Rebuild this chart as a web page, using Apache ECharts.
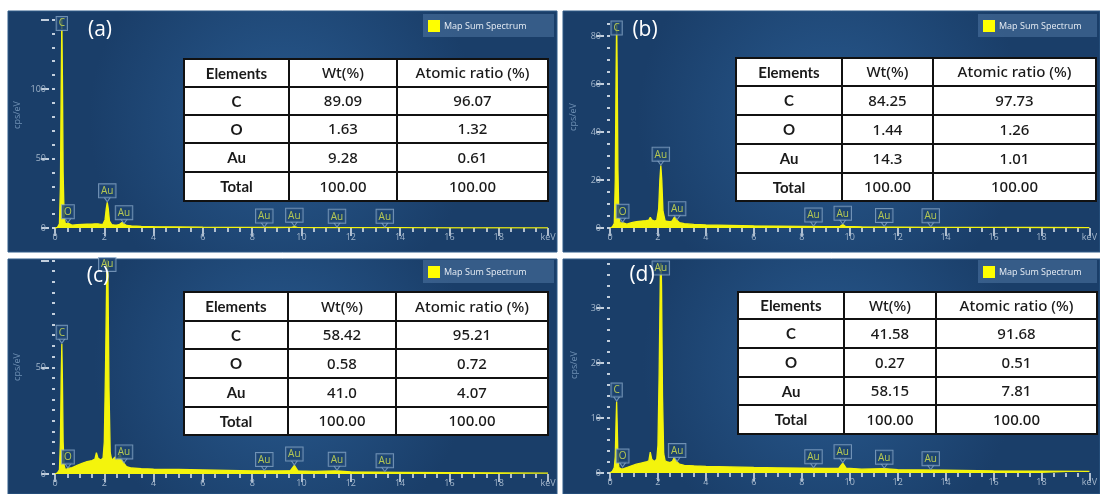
<!DOCTYPE html>
<html><head><meta charset="utf-8">
<script src="https://cdn.jsdelivr.net/npm/echarts@6/dist/echarts.min.js"></script>
<style>html,body{margin:0;padding:0;background:#fff}#c{width:1100px;height:494px}</style>
</head><body><div id="c"></div>
<script>
// ---------------- DATA ----------------
const panelLabels = ['(a)', '(b)', '(c)', '(d)'];
const legendText = 'Map Sum Spectrum';
const yAxisTitle = 'cps/eV';

// spectrum (a)
const keVA = [0,0.1,0.18,0.22,0.25,0.277,0.3,0.33,0.37,0.42,0.48,0.525,0.57,0.7,0.9,1.1,1.3,1.5,1.62,1.68,1.74,1.85,1.95,2.03,2.08,2.12,2.16,2.21,2.3,2.4,2.5,2.6,2.68,2.72,2.78,2.9,3.1,3.5,4,5,6,7,8,9,9.6,9.71,9.82,10.5,12,14,16,18,20];
const cpsA = [0,0.5,3,30,100,152,110,40,8,3,2.5,3.5,2.2,2,2.4,2.6,2.7,2.8,3,3.8,3,2.6,2.8,6,14,18.5,14,5,2.4,2.2,2.1,2.4,3.5,4,2.8,1.8,1.5,1.2,1,0.8,0.6,0.5,0.4,0.35,0.4,1,0.4,0.3,0.25,0.2,0.15,0.1,0.1];
// spectrum (b)
const keVB = [0,0.1,0.18,0.22,0.25,0.277,0.3,0.33,0.37,0.42,0.48,0.525,0.57,0.7,0.9,1.1,1.3,1.5,1.62,1.68,1.74,1.85,1.95,2.03,2.08,2.12,2.16,2.21,2.3,2.4,2.5,2.6,2.68,2.72,2.78,2.9,3.1,3.5,4,5,6,7,8,9,9.6,9.71,9.82,10.5,12,14,16,18,20];
const cpsB = [0,0.5,2,20,60,88,65,25,5,2,1.6,2.2,1.5,1.6,2.2,2.6,2.9,3.1,3.3,4.5,3.4,2.9,3.2,8,20,26,20,7,3,2.8,2.6,3,4.5,5,3.3,2.2,1.8,1.5,1.3,1.1,0.9,0.8,0.7,0.6,0.7,1.4,0.7,0.5,0.4,0.3,0.25,0.2,0.15];
// spectrum (c)
const keVC = [0,0.1,0.18,0.22,0.25,0.277,0.3,0.33,0.37,0.42,0.48,0.525,0.57,0.7,0.9,1.1,1.3,1.5,1.62,1.68,1.74,1.85,1.95,2.0,2.05,2.1,2.12,2.15,2.19,2.24,2.3,2.38,2.44,2.5,2.58,2.64,2.7,2.8,2.9,3.1,3.5,4,5,6,7,8,9,9.55,9.71,9.85,10.5,11.44,12,14,16,18,20];
const cpsC = [0,0.5,2,15,45,61,45,15,4,2,2,2.6,2.2,3,4,5,5.8,6.3,7,10,7.5,6.5,7.5,15,50,95,110,90,40,10,6.5,6,8,6,6.5,9.5,7,5,3.5,2.8,2.5,2.3,2.1,1.9,1.7,1.5,1.4,1.6,4,1.5,1.2,1.5,1,0.8,0.6,0.5,0.4];
// spectrum (d)
const keVD = [0,0.1,0.18,0.22,0.25,0.277,0.3,0.33,0.37,0.42,0.48,0.525,0.57,0.7,0.9,1.1,1.3,1.5,1.62,1.68,1.74,1.85,1.95,2.0,2.05,2.1,2.12,2.15,2.19,2.24,2.3,2.4,2.5,2.6,2.68,2.72,2.8,2.9,3.1,3.5,4,5,6,7,8,9,9.55,9.71,9.85,10.5,11.44,12,14,16,18,20];
const cpsD = [0,0.3,1,3,9,13,9,3,1,0.7,0.7,1,0.8,1,1.3,1.6,1.8,2,2.2,3.8,2.5,2.1,2.5,5,18,36,42,34,14,3.5,2.2,2,1.9,2.1,2.8,3,2,1.6,1.4,1.3,1.2,1.1,1,0.95,0.9,0.85,0.9,1.8,0.9,0.7,0.8,0.6,0.5,0.4,0.35,0.3];

// identified element lines
const lineNames = ['C','O','Au','Au','Au','Au','Au','Au'];
const lineKeV = [0.277,0.525,2.12,2.8,8.49,9.71,11.44,13.38];

// axis ticks
const xTicks = [0,2,4,6,8,10,12,14,16,18,20];
const yMaxes = [150, 85, 100, 38];
const yMinorSteps = [10, 5, 5, 2];
const yMajorTicks = [[0,50,100,150],[0,20,40,60,80],[0,50,100],[0,10,20,30]];
const yMajorLabels = [[0,50,100],[0,20,40,60,80],[0,50],[0,10,20,30]];

// tables
const tableHeader = ['Elements', 'Wt(%)', 'Atomic ratio (%)'];
const tableElements = ['C', 'O', 'Au', 'Total'];
const wtA = ['89.09', '1.63', '9.28', '100.00'];
const atA = ['96.07', '1.32', '0.61', '100.00'];
const wtB = ['84.25', '1.44', '14.3', '100.00'];
const atB = ['97.73', '1.26', '1.01', '100.00'];
const wtC = ['58.42', '0.58', '41.0', '100.00'];
const atC = ['95.21', '0.72', '4.07', '100.00'];
const wtD = ['41.58', '0.27', '58.15', '100.00'];
const atD = ['91.68', '0.51', '7.81', '100.00'];

// ---------------- LAYOUT ----------------
const spectra = [[keVA,cpsA],[keVB,cpsB],[keVC,cpsC],[keVD,cpsD]];
const tablesWt = [wtA, wtB, wtC, wtD];
const tablesAt = [atA, atB, atC, atD];
const panels = [
  {x:8, y:11, w:549, h:241, grid:{left:55, top:19.5, width:493, height:208.5},
   label:[100,30], legend:[423,14,131], table:{cols:[184,289,397,548],rows:[59,87,115,143,172,201]}, title:[17,115]},
  {x:563, y:11, w:537, h:241, grid:{left:610, top:24, width:490, height:204},
   label:[645,30], legend:[978,14,119], table:{cols:[736,842,933,1096],rows:[58,86,115,144,173,201]}, title:[573,117]},
  {x:8, y:259, w:549, h:235, grid:{left:55, top:260.5, width:493, height:213.5},
   label:[98,276], legend:[423,260,131], table:{cols:[184,288,396,548],rows:[292,321,349,378,407,435]}, title:[17,367]},
  {x:563, y:259, w:537, h:235, grid:{left:610, top:264, width:490, height:209},
   label:[642,275], legend:[978,260,119], table:{cols:[738,844,936,1097],rows:[292,319,348,377,405,434]}, title:[574,365]}
];

const tickColor = '#d7e0ea';
const labelColor = '#a3b6cb';
const specColor = '#f4f40c';
const boxFill = '#1d4470';
const boxBorder = '#86a5c6';
const boxText = '#dbe84c';

function valueNear(xs, ys, e) {
  let best = null;
  for (let i = 0; i < xs.length; i++) {
    if (Math.abs(xs[i] - e) <= 0.061) best = best === null ? ys[i] : Math.max(best, ys[i]);
  }
  if (best !== null) return best;
  for (let i = 0; i < xs.length - 1; i++) {
    if (xs[i] <= e && xs[i+1] >= e) {
      const t = (e - xs[i]) / (xs[i+1] - xs[i]);
      return ys[i] + t * (ys[i+1] - ys[i]);
    }
  }
  return 0;
}

const grids = [], xAxes = [], yAxes = [], series = [], graphics = [];
panels.forEach((p, i) => {
  grids.push(p.grid);
  xAxes.push({
    gridIndex: i, type: 'value', min: 0, max: 20, interval: 2, position: 'bottom',
    axisLine: {show: false},
    axisTick: {show: true, length: 8, lineStyle: {color: tickColor, width: 1.6}},
    minorTick: {show: true, splitNumber: 4, length: 4, lineStyle: {color: tickColor, width: 1.6}},
    axisLabel: {color: labelColor, fontSize: 9, margin: 5, fontFamily: 'Open Sans',
      formatter: v => v === 20 ? 'keV' : String(v), customValues: xTicks},
    splitLine: {show: false}, minorSplitLine: {show: false}
  });
  // minor y axis
  yAxes.push({
    gridIndex: i, type: 'value', position: 'left', min: 0, max: yMaxes[i], interval: yMinorSteps[i], offset: 6,
    axisLine: {show: false},
    axisTick: {show: true, length: 3, lineStyle: {color: tickColor, width: 1.8}},
    axisLabel: {show: false}, splitLine: {show: false}
  });
  // major y axis
  yAxes.push({
    gridIndex: i, type: 'value', position: 'left', min: 0, max: yMaxes[i], offset: 6,
    axisLine: {show: false},
    axisTick: {show: true, length: 8, customValues: yMajorTicks[i], lineStyle: {color: tickColor, width: 1.8}},
    axisLabel: {show: true, customValues: yMajorLabels[i], color: labelColor, fontSize: 9, margin: 3, fontFamily: 'Open Sans'},
    splitLine: {show: false}
  });
  const [xs, ys] = spectra[i];
  series.push({
    type: 'line', xAxisIndex: i, yAxisIndex: 2*i, data: xs.map((x, k) => [x, ys[k]]),
    symbol: 'none', smooth: false, clip: true, z: 3,
    lineStyle: {color: specColor, width: 1.3}, areaStyle: {color: specColor, opacity: 1}
  });
  const ymax = yMaxes[i];
  series.push({
    type: 'scatter', xAxisIndex: i, yAxisIndex: 2*i, clip: false, z: 5, silent: true,
    symbol: 'triangle', symbolRotate: 180, symbolSize: [7, 5], symbolOffset: [0, -3],
    itemStyle: {color: boxFill, borderColor: boxBorder, borderWidth: 1},
    data: lineKeV.map((e, k) => {
      const v = valueNear(xs, ys, e);
      const clamped = v >= ymax;
      return {
        value: [e, Math.min(v, ymax)],
        symbolSize: clamped ? 0 : [7, 5],
        label: {
          show: true, formatter: lineNames[k],
          position: clamped ? 'inside' : 'top', distance: -1,
          offset: clamped ? [0, 7] : [0, 0],
          backgroundColor: boxFill, borderColor: boxBorder, borderWidth: 1,
          padding: [2, 2, 1, 2], color: boxText, fontSize: 10, fontFamily: 'Open Sans'
        }
      };
    })
  });

  // panel background
  graphics.push({type: 'rect', z: -10, shape: {x: p.x, y: p.y, width: p.w, height: p.h},
    style: {fill: {type: 'radial', x: 0.5, y: 0.45, r: 0.8,
      colorStops: [{offset: 0, color: '#28598e'}, {offset: 1, color: '#1a3e69'}]},
      stroke: '#2f5a88', lineWidth: 1}});
  // panel label
  graphics.push({type: 'text', z: 20, x: p.label[0], y: p.label[1],
    style: {text: panelLabels[i], fill: '#ffffff', font: '21px "Open Sans"', align: 'center', verticalAlign: 'middle'}});
  // y axis title
  graphics.push({type: 'text', z: 20, x: p.title[0], y: p.title[1], rotation: Math.PI / 2,
    style: {text: yAxisTitle, fill: '#6f90b4', font: '9px "Open Sans"', align: 'center', verticalAlign: 'middle'}});
  // legend
  const [lx, ly, lw] = p.legend;
  graphics.push({type: 'rect', z: 20, shape: {x: lx, y: ly, width: lw, height: 23},
    style: {fill: 'rgba(110,150,195,0.35)'}});
  graphics.push({type: 'rect', z: 21, shape: {x: lx + 5, y: ly + 6, width: 12, height: 12},
    style: {fill: '#ffff00'}});
  graphics.push({type: 'text', z: 21, x: lx + 21, y: ly + 12,
    style: {text: legendText, fill: '#e8eef5', font: '9px "Open Sans"', verticalAlign: 'middle'}});
  // table
  const t = p.table, cols = t.cols, rows = t.rows;
  graphics.push({type: 'rect', z: 50, shape: {x: cols[0], y: rows[0], width: cols[3]-cols[0], height: rows[5]-rows[0]},
    style: {fill: '#ffffff', stroke: '#111111', lineWidth: 2}});
  for (let c = 1; c < 3; c++) graphics.push({type: 'line', z: 51,
    shape: {x1: cols[c], y1: rows[0], x2: cols[c], y2: rows[5]}, style: {stroke: '#111111', lineWidth: 2}});
  for (let r = 1; r < 5; r++) graphics.push({type: 'line', z: 51,
    shape: {x1: cols[0], y1: rows[r], x2: cols[3], y2: rows[r]}, style: {stroke: '#111111', lineWidth: 2}});
  const cellText = (txt, c, r, bold) => graphics.push({type: 'text', z: 52,
    x: (cols[c] + cols[c+1]) / 2, y: (rows[r] + rows[r+1]) / 2 + 1,
    style: {text: txt, fill: '#1a1a1a', align: 'center', verticalAlign: 'middle',
      font: bold ? 'bold 15px Lato' : '500 15px "Noto Sans"'}});
  cellText(tableHeader[0], 0, 0, true);
  cellText(tableHeader[1], 1, 0, false);
  cellText(tableHeader[2], 2, 0, false);
  tableElements.forEach((el, r) => {
    cellText(el, 0, r + 1, true);
    cellText(tablesWt[i][r], 1, r + 1, false);
    cellText(tablesAt[i][r], 2, r + 1, false);
  });
});

const chart = echarts.init(document.getElementById('c'), null, {renderer: 'canvas', width: 1100, height: 494});
chart.setOption({
  backgroundColor: '#ffffff',
  animation: false,
  grid: grids, xAxis: xAxes, yAxis: yAxes, series: series,
  graphic: {elements: graphics}
});
</script></body></html>
